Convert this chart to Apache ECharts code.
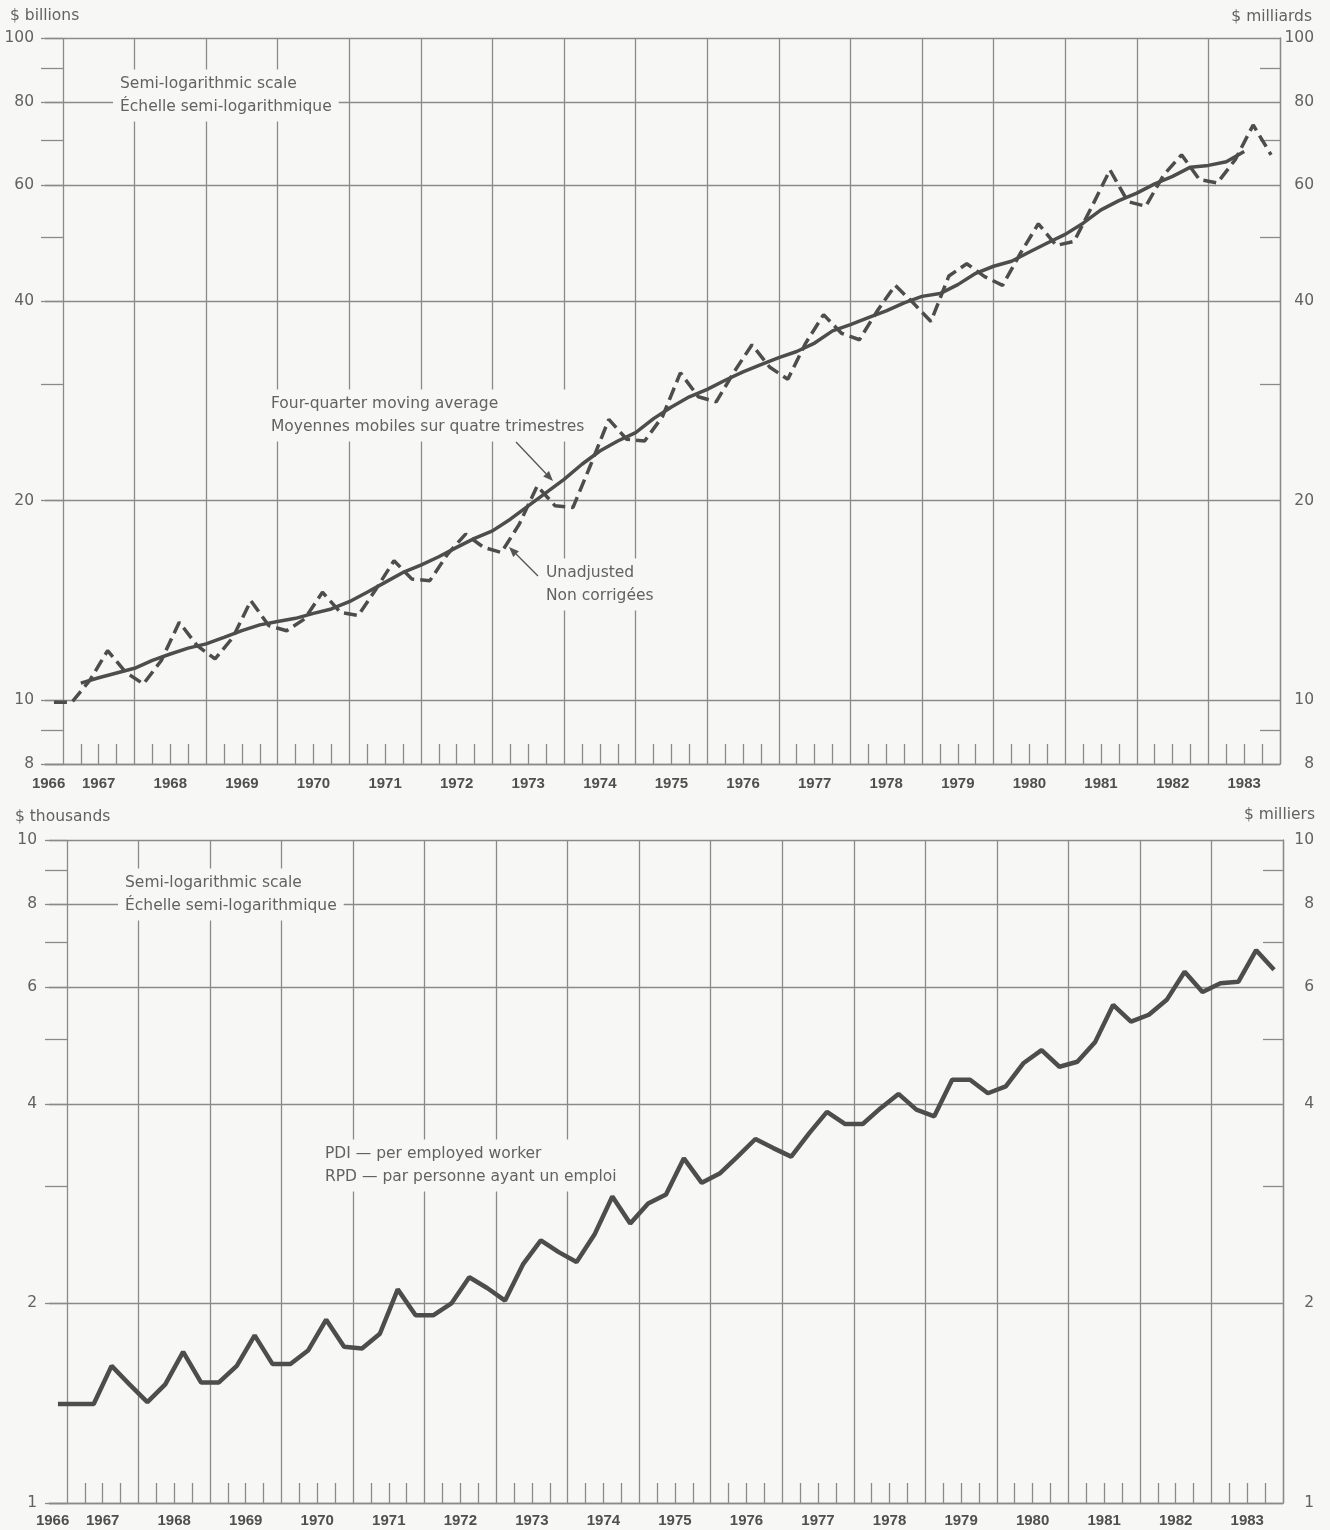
<!DOCTYPE html>
<html>
<head>
<meta charset="utf-8">
<script src="https://cdn.jsdelivr.net/npm/echarts@6.0.0/dist/echarts.min.js"></script>
<style>
  html, body { margin: 0; padding: 0; background: #f7f7f5; }
  #chart { width: 1330px; height: 1530px; }
</style>
</head>
<body>
<div id="chart"></div>
<script>
// quarterly, 1966 Q4 .. 1983 Q4 ($ billions)
const unadjusted = [
  9.92, 9.92, 10.7, 11.87, 11.01, 10.57, 11.47, 13.10, 12.08, 11.53,
  12.43, 14.12, 12.95, 12.72, 13.25, 14.54, 13.56, 13.41, 14.71, 16.23,
  15.22, 15.14, 16.61, 17.80, 17.0, 16.70, 18.43, 21.05, 19.64, 19.53,
  22.70, 26.53, 24.76, 24.61, 26.8, 31.2, 28.7, 28.2, 31.3, 34.4,
  31.8, 30.5, 34.6, 38.2, 35.8, 35.0, 38.7, 42.3, 39.8, 37.3,
  43.7, 45.6, 43.6, 42.3, 47.3, 52.4, 48.6, 49.3, 55.7, 63.2,
  56.6, 55.7, 62.1, 66.6, 61.1, 60.4, 65.5, 73.9, 66.6
];
// four-quarter moving average, centred between quarters: 1967.25 .. 1983.5
const movingAvg = [
  10.6, 10.8, 10.98, 11.16, 11.47, 11.73, 11.97, 12.15, 12.43, 12.72,
  12.98, 13.13, 13.28, 13.51, 13.72, 14.07, 14.54, 15.05, 15.58, 15.98,
  16.45, 17.0, 17.54, 18.0, 18.75, 19.64, 20.57, 21.54, 22.7, 23.77,
  24.61, 25.33, 26.6, 27.7, 28.7, 29.45, 30.4, 31.3, 32.1, 32.9,
  33.6, 34.6, 36.1, 36.9, 37.8, 38.7, 39.8, 40.7, 41.1, 42.4,
  44.1, 45.2, 46.0, 47.5, 49.0, 50.5, 52.5, 55.0, 56.8, 58.3,
  60.2, 61.8, 63.8, 64.2, 65.0, 67.4
];
// PDI per employed worker, quarterly 1966 Q4 .. 1983 Q4 ($ thousands)
const pdiPerWorker = [
  1.41, 1.41, 1.41, 1.61, 1.51, 1.42, 1.51, 1.69, 1.52, 1.52,
  1.61, 1.79, 1.62, 1.62, 1.70, 1.89, 1.72, 1.71, 1.80, 2.10,
  1.92, 1.92, 2.00, 2.19, 2.11, 2.02, 2.29, 2.49, 2.39, 2.31,
  2.54, 2.90, 2.64, 2.83, 2.92, 3.31, 3.04, 3.14, 3.33, 3.54,
  3.43, 3.33, 3.61, 3.89, 3.73, 3.73, 3.94, 4.14, 3.92, 3.83,
  4.35, 4.35, 4.15, 4.25, 4.61, 4.82, 4.55, 4.63, 4.96, 5.64,
  5.32, 5.45, 5.74, 6.33, 5.90, 6.08, 6.11, 6.82, 6.37
];

const years = [1966, 1967, 1968, 1969, 1970, 1971, 1972, 1973, 1974, 1975,
  1976, 1977, 1978, 1979, 1980, 1981, 1982, 1983];
const topLabels = [8, 10, 20, 40, 60, 80, 100];
const topMinor = [9, 30, 50, 70, 90];
const bottomLabels = [1, 2, 4, 6, 8, 10];
const bottomMinor = [3, 5, 7, 9];

const lg = Math.log10;
const LINE = '#4d4d4d';
const GRID = '#8a8a8a';
const TEXT = '#626262';
const FONT = '"DejaVu Sans", sans-serif';

// year boundaries, quarter ticks, label spots (1966 sits in the left corner)
const yearBounds = years.slice(1).concat([1984]);
const quarterTicks = [];
years.slice(1).forEach(y => { quarterTicks.push(y + 0.25, y + 0.5, y + 0.75); });
const yearLabelPos = years.map(y => y === 1966 ? 1966.8 : y + 0.5);

function xAxes(g, margin) {
  return [{
    gridIndex: g, type: 'value', min: 1966.75, max: 1984,
    axisLine: { show: true, lineStyle: { color: GRID, width: 1.3 } },
    axisTick: { show: true, inside: true, length: 20, customValues: quarterTicks,
      lineStyle: { color: GRID, width: 1.3 } },
    axisLabel: { show: true, customValues: yearLabelPos, margin: margin,
      formatter: v => String(Math.floor(v)),
      color: '#4f4f4f', fontWeight: 'bold', fontSize: 15, fontFamily: '"Liberation Sans", Arial, sans-serif' },
    splitLine: { show: false }
  }, {
    gridIndex: g, type: 'value', min: 1966.75, max: 1984,
    axisLine: { show: false },
    axisTick: { show: false, customValues: yearBounds },
    axisLabel: { show: false },
    splitLine: { show: true, lineStyle: { color: GRID, width: 1.3 } }
  }];
}

function yAxes(g, lo, hi, labels, minor, leftMargin, rightMargin) {
  const fmt = v => String(Math.round(Math.pow(10, v)));
  const all = labels.concat(minor).map(lg);
  const labelStyle = { color: TEXT, fontSize: 15.5, fontFamily: FONT, formatter: fmt };
  return [{
    gridIndex: g, type: 'value', min: lg(lo), max: lg(hi), position: 'left', offset: -18,
    axisLine: { show: false },
    axisTick: { show: true, length: 22, customValues: all, lineStyle: { color: GRID, width: 1.3 } },
    axisLabel: Object.assign({ customValues: labels.map(lg), margin: leftMargin }, labelStyle),
    splitLine: { show: false }
  }, {
    gridIndex: g, type: 'value', min: lg(lo), max: lg(hi), position: 'right',
    axisLine: { show: true, lineStyle: { color: GRID, width: 1.3 } },
    axisTick: { show: true, inside: true, length: 20, customValues: minor.map(lg),
      lineStyle: { color: GRID, width: 1.3 } },
    axisLabel: Object.assign({ customValues: labels.map(lg), margin: rightMargin, align: 'right' }, labelStyle),
    splitLine: { show: false }
  }, {
    gridIndex: g, type: 'value', min: lg(lo), max: lg(hi), position: 'left',
    axisLine: { show: false },
    axisTick: { show: false, customValues: labels.map(lg) },
    axisLabel: { show: false },
    splitLine: { show: true, lineStyle: { color: GRID, width: 1.3 } }
  }];
}

function note(x, y, text, extra) {
  return {
    type: 'text', z: 1,
    style: Object.assign({
      text: text, x: x, y: y, fill: TEXT, font: '15.5px ' + FONT, lineHeight: 23
    }, extra || {})
  };
}
function boxed(x, y, text) {
  return note(x - 7, y - 14.5, text, { backgroundColor: '#f7f7f5', padding: [3, 7, 3, 7], verticalAlign: 'top' });
}
function arrow(x1, y1, x2, y2) {
  const len = Math.hypot(x2 - x1, y2 - y1);
  const ux = (x2 - x1) / len, uy = (y2 - y1) / len;
  const bx = x2 - ux * 10, by = y2 - uy * 10;
  return [
    { type: 'line', z: 3, shape: { x1: x1, y1: y1, x2: bx, y2: by }, style: { stroke: '#555', lineWidth: 1.3 } },
    { type: 'polygon', z: 3, shape: { points: [[x2, y2], [bx - uy * 4, by + ux * 4], [bx + uy * 4, by - ux * 4]] },
      style: { fill: '#555' } }
  ];
}

const chart = echarts.init(document.getElementById('chart'), null, { renderer: 'canvas' });

const option = {
  backgroundColor: '#f7f7f5',
  animation: false,
  grid: [
    { left: 45, right: 50, top: 38, height: 726, outerBoundsMode: 'none' },
    { left: 49, right: 47, top: 840, height: 663, outerBoundsMode: 'none' }
  ],
  xAxis: xAxes(0, 12).concat(xAxes(1, 10)),
  yAxis: yAxes(0, 8, 100, topLabels, topMinor, 29, 34)
    .concat(yAxes(1, 1, 10, bottomLabels, bottomMinor, 30, 31)),
  series: [{
    name: 'Unadjusted', type: 'line', xAxisIndex: 0, yAxisIndex: 0,
    showSymbol: false, symbol: 'none', z: 3,
    lineStyle: { color: LINE, width: 3.5, type: [13, 6] },
    data: unadjusted.map((v, i) => [1966.875 + i * 0.25, lg(v)])
  }, {
    name: 'Four-quarter moving average', type: 'line', xAxisIndex: 0, yAxisIndex: 0,
    showSymbol: false, symbol: 'none', z: 4,
    lineStyle: { color: LINE, width: 3.5 },
    data: movingAvg.map((v, i) => [1967.25 + i * 0.25, lg(v)])
  }, {
    name: 'PDI per employed worker', type: 'line', xAxisIndex: 2, yAxisIndex: 3,
    showSymbol: false, symbol: 'none', z: 3,
    lineStyle: { color: LINE, width: 4.5 },
    data: pdiPerWorker.map((v, i) => [1966.875 + i * 0.25, lg(v)])
  }],
  graphic: [
    note(10, 16, '$ billions', { verticalAlign: 'middle' }),
    note(1312, 17, '$ milliards', { verticalAlign: 'middle', align: 'right' }),
    note(15, 817, '$ thousands', { verticalAlign: 'middle' }),
    note(1315, 815, '$ milliers', { verticalAlign: 'middle', align: 'right' }),
    boxed(120, 84, 'Semi-logarithmic scale\nÉchelle semi-logarithmique'),
    boxed(125, 883, 'Semi-logarithmic scale\nÉchelle semi-logarithmique'),
    boxed(271, 404, 'Four-quarter moving average\nMoyennes mobiles sur quatre trimestres'),
    boxed(546, 573, 'Unadjusted\nNon corrigées'),
    boxed(325, 1154, 'PDI — per employed worker\nRPD — par personne ayant un emploi')
  ].concat(arrow(516, 442, 553, 481), arrow(538, 576, 509, 547))
};

chart.setOption(option);
</script>
</body>
</html>
